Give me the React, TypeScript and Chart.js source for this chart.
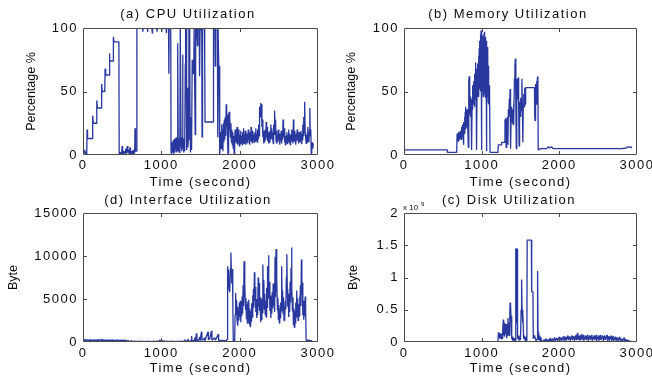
import React, { useEffect, useRef } from 'react';
import { Chart, registerables } from 'chart.js';

Chart.register(...registerables);

const FONT = '"Liberation Sans", Arial, Helvetica, sans-serif';
const LINE = 'rgb(40,56,158)';
const TEXT = '#0d0d0d';

// ---------- tick labels ----------
const timeTicks = [0, 1000, 2000, 3000];
const pctTicks = [0, 50, 100];
const byteTicks = [0, 5000, 10000, 15000];
const diskTicks = [0, 0.5, 1, 1.5, 2];

// ---------- titles ----------
const cpuTitle = '(a) CPU Utilization';
const memTitle = '(b) Memory Utilization';
const ifaceTitle = '(d) Interface Utilization';
const diskTitle = '(c) Disk Utilization';
const timeLabel = 'Time (second)';

// ---------- data: [time (s), value] ----------
const cpuSamples: [number, number][] = [
  [0, 3], [10, 1], [20, 4], [30, 2], [40, 0], [48, 1],
  [52, 20], [58, 13], [120, 13], [124, 31], [132, 25], [172, 25], [176, 43], [184, 37], [234, 37],
  [238, 56], [246, 50], [278, 50], [282, 68], [290, 63], [332, 63], [336, 80], [344, 74], [384, 74],
  [388, 93], [396, 89], [458, 89], [462, 1],
  [480, 2], [490, 0], [500, 7], [506, 1], [520, 3], [530, 0], [548, 5], [554, 1], [566, 7], [572, 2],
  [584, 4], [590, 0], [600, 6], [606, 1], [620, 3], [630, 0], [640, 4], [648, 1], [660, 2], [664, 21],
  [670, 3], [684, 3], [688, 100],
  [760, 100], [764, 97], [768, 100], [820, 100], [824, 97], [828, 100], [880, 100], [884, 96], [888, 100],
  [940, 100], [944, 97], [948, 100], [1000, 100], [1004, 97], [1008, 100], [1060, 100], [1064, 96], [1068, 100],
  [1092, 100], [1096, 64], [1100, 100], [1120, 100], [1124, 2],
  [1130, 8], [1134, 1], [1140, 10], [1144, 2], [1150, 11], [1154, 1], [1160, 12], [1164, 3], [1170, 13],
  [1174, 2], [1180, 12], [1184, 4], [1190, 14], [1194, 2], [1200, 12], [1206, 3],
  [1212, 88], [1216, 4], [1222, 13], [1226, 2], [1234, 12], [1238, 4], [1242, 100], [1248, 100], [1252, 8],
  [1258, 14], [1262, 3], [1268, 12], [1272, 79], [1276, 5], [1282, 13], [1286, 2], [1292, 11], [1298, 3],
  [1306, 72], [1310, 100], [1316, 100], [1320, 18], [1326, 4], [1330, 12], [1336, 53], [1340, 6], [1346, 12],
  [1352, 100], [1362, 100], [1366, 30], [1372, 2], [1380, 20], [1386, 4], [1394, 75], [1398, 64], [1414, 64],
  [1418, 100], [1428, 100], [1432, 16], [1438, 100], [1446, 92], [1452, 100], [1460, 86], [1466, 100],
  [1484, 100], [1488, 62], [1494, 98], [1516, 100], [1520, 14], [1526, 100], [1550, 100], [1554, 75],
  [1558, 26], [1662, 26], [1666, 100], [1684, 100], [1688, 70], [1692, 82], [1696, 100], [1716, 100],
  [1720, 14], [1724, 100], [1734, 100], [1738, 55], [1742, 70], [1748, 0],
  [1756, 18], [1762, 5], [1768, 24], [1774, 8], [1780, 20], [1786, 3], [1792, 25], [1798, 10], [1804, 28],
  [1810, 12], [1816, 30], [1822, 15], [1828, 40], [1834, 22], [1840, 32], [1846, 10], [1852, 0], [1858, 12],
  [1864, 34], [1870, 20], [1876, 30], [1882, 14], [1888, 25], [1894, 10], [1900, 20], [1906, 8], [1912, 18],
  [1918, 5], [1924, 15], [1930, 0], [1936, 12], [1942, 20], [1948, 10],
  [1954, 18], [1960, 9], [1966, 22], [1972, 8], [1978, 17], [1984, 10], [1990, 20], [1996, 7], [2002, 16],
  [2008, 9], [2014, 19], [2020, 11], [2026, 15], [2032, 8], [2038, 18], [2044, 10], [2050, 21], [2056, 9],
  [2062, 16], [2068, 11], [2074, 19], [2080, 8], [2086, 15], [2092, 10], [2098, 17], [2104, 9], [2110, 20],
  [2116, 12], [2122, 16], [2128, 8], [2134, 18], [2140, 11], [2146, 22], [2152, 10], [2158, 17], [2164, 9],
  [2170, 19], [2176, 12], [2182, 16], [2188, 10], [2194, 18], [2200, 11], [2206, 21], [2212, 12], [2218, 17],
  [2224, 10], [2230, 20], [2236, 13], [2242, 24], [2248, 15], [2254, 38], [2260, 30], [2266, 41], [2272, 34],
  [2278, 40], [2284, 22], [2290, 28], [2296, 14], [2302, 19], [2308, 9], [2314, 17], [2320, 10], [2326, 20],
  [2332, 12], [2338, 26], [2344, 14], [2350, 22], [2356, 11], [2362, 18], [2368, 9], [2374, 16], [2380, 10],
  [2386, 19], [2392, 13], [2398, 24], [2404, 15], [2410, 21], [2416, 12], [2422, 18], [2428, 9], [2434, 24],
  [2440, 16], [2446, 35], [2452, 22], [2458, 28], [2464, 12], [2470, 19], [2476, 9], [2482, 16], [2488, 10],
  [2494, 20], [2500, 12], [2506, 17], [2512, 8], [2518, 15], [2524, 11], [2530, 19], [2536, 9], [2542, 16],
  [2548, 12], [2554, 28], [2560, 14], [2566, 21], [2572, 10], [2578, 17], [2584, 8], [2590, 15], [2596, 11],
  [2602, 18], [2608, 9], [2614, 16], [2620, 12], [2626, 20], [2632, 10], [2638, 17], [2644, 8], [2650, 16],
  [2656, 11], [2662, 20], [2668, 13], [2674, 18], [2680, 9], [2686, 28], [2692, 11], [2698, 19], [2704, 10],
  [2710, 15], [2716, 8], [2722, 17], [2728, 11], [2734, 20], [2740, 12], [2746, 16], [2752, 9], [2758, 18],
  [2764, 10], [2770, 15], [2776, 11], [2782, 19], [2788, 9], [2794, 17], [2800, 12], [2806, 24], [2812, 15],
  [2818, 30], [2824, 20], [2830, 42], [2836, 18], [2842, 14], [2848, 9], [2854, 16], [2860, 10], [2866, 22],
  [2872, 12], [2878, 18], [2884, 10], [2890, 20], [2896, 37], [2902, 15], [2908, 20], [2914, 0], [2920, 3],
  [2926, 10], [2932, 5], [2940, 9],
];

const memSamples: [number, number][] = [
  [0, 4], [556, 4], [560, 2], [678, 2], [684, 17],
  [688, 12], [692, 16], [696, 11], [700, 17], [704, 12], [708, 18], [712, 13], [716, 16], [720, 12],
  [724, 19], [728, 13], [732, 18], [736, 14], [740, 22], [744, 12], [748, 21], [752, 15], [756, 24],
  [760, 16], [764, 8], [768, 18], [772, 26], [776, 17], [780, 30], [784, 19], [788, 34], [792, 20],
  [796, 38], [800, 22], [804, 30], [808, 24], [812, 36], [816, 25], [820, 33], [824, 26], [828, 6],
  [832, 30], [836, 58], [840, 62], [844, 32], [848, 50], [852, 34], [856, 46], [860, 30], [864, 44],
  [868, 28], [872, 4], [876, 36], [880, 52], [884, 38], [888, 55], [892, 40], [896, 58], [900, 42],
  [904, 50], [908, 38], [912, 64], [916, 44], [920, 73], [924, 46], [928, 68], [932, 42], [936, 4],
  [940, 48], [944, 72], [948, 50], [952, 66], [956, 46], [960, 78], [964, 50], [968, 84], [972, 52],
  [976, 90], [980, 56], [984, 95], [988, 50], [992, 98], [996, 48], [1000, 4], [1004, 52], [1008, 94],
  [1012, 50], [1016, 88], [1020, 46], [1024, 92], [1028, 54], [1032, 96], [1036, 48], [1040, 97],
  [1044, 50], [1048, 93], [1052, 45], [1056, 90], [1060, 44], [1064, 3], [1068, 48], [1072, 85],
  [1076, 46], [1080, 78], [1084, 42], [1088, 70], [1092, 40], [1096, 55], [1100, 38], [1104, 45], [1108, 2],
  [1210, 2], [1214, 8], [1255, 8], [1258, 10], [1296, 10],
  [1300, 28], [1305, 22], [1310, 29], [1315, 6], [1320, 28], [1326, 24], [1332, 30], [1338, 8], [1344, 36],
  [1350, 30], [1356, 44], [1360, 38], [1366, 52], [1370, 34], [1374, 5], [1380, 30], [1386, 38], [1392, 26],
  [1398, 36], [1404, 24], [1410, 40], [1416, 28], [1422, 60], [1428, 70], [1434, 76], [1440, 40], [1446, 5],
  [1452, 48], [1458, 60], [1464, 44], [1470, 61], [1476, 40], [1482, 7], [1488, 36], [1494, 42], [1500, 30],
  [1506, 45], [1512, 35], [1518, 60], [1524, 40], [1530, 10], [1536, 40], [1542, 48], [1548, 38], [1554, 53],
  [1560, 40], [1566, 53], [1680, 53], [1684, 30], [1688, 27], [1694, 56], [1700, 40], [1706, 58], [1712, 45],
  [1718, 61], [1724, 62], [1728, 4],
  [1760, 5], [1840, 5], [1860, 6.5], [1880, 5.5], [1900, 6.5], [1920, 5], [2800, 5], [2860, 5.5],
  [2880, 6.5], [2900, 6], [2920, 6.5], [2935, 5.5],
];

const ifaceSamples: [number, number][] = [
  [0, 250], [12, 120], [24, 300], [36, 150], [48, 280], [60, 110], [72, 260], [84, 140], [96, 300],
  [108, 120], [120, 240], [132, 100], [144, 280], [156, 130], [168, 260], [180, 110], [192, 300],
  [204, 150], [216, 270], [228, 120], [240, 350], [252, 140], [264, 260], [276, 110], [288, 280],
  [300, 130], [312, 250], [324, 100], [336, 270], [348, 140], [360, 250], [372, 110], [384, 280],
  [396, 120], [408, 240], [420, 100], [432, 260], [444, 130], [456, 230], [468, 100], [480, 250],
  [492, 120], [504, 240], [516, 110], [528, 230], [540, 90], [552, 200], [564, 80], [580, 150],
  [600, 60], [620, 120], [640, 50], [660, 110], [680, 40], [700, 100], [720, 50], [740, 90], [760, 30],
  [780, 80], [800, 40], [820, 90], [840, 30], [860, 80], [880, 40], [900, 90], [920, 30], [940, 100],
  [960, 60], [980, 200], [990, 120], [1000, 220], [1010, 80], [1030, 120], [1050, 40], [1070, 100],
  [1090, 30], [1110, 90], [1130, 40], [1150, 100], [1170, 30], [1190, 80], [1210, 40], [1230, 100],
  [1250, 50], [1270, 110], [1290, 60],
  [1300, 300], [1306, 60], [1330, 120], [1340, 350], [1346, 80], [1380, 150], [1386, 700], [1392, 100],
  [1420, 200], [1430, 500], [1436, 120], [1448, 1000], [1454, 150], [1480, 250], [1490, 600], [1496, 150],
  [1512, 1200], [1518, 200], [1540, 300], [1550, 500], [1556, 150], [1596, 1200], [1602, 250], [1620, 400],
  [1640, 1300], [1646, 200], [1660, 350], [1680, 500], [1690, 200], [1726, 900], [1732, 150], [1760, 200],
  [1800, 150], [1830, 200], [1840, 300],
  [1846, 8800], [1852, 7600], [1858, 8400], [1864, 6200], [1870, 7400], [1876, 5800], [1882, 8600],
  [1888, 10400], [1894, 8200], [1900, 6800], [1906, 8500], [1912, 5200], [1918, 150], [1924, 80],
  [1930, 200], [1936, 100], [1942, 3200], [1948, 5700], [1954, 3400], [1960, 4900], [1966, 2600],
  [1972, 4100], [1978, 1900], [1984, 3700], [1990, 2500], [1996, 4600], [2002, 2900], [2008, 4800],
  [2014, 2300], [2020, 4300], [2026, 3000], [2032, 5300], [2038, 3300], [2044, 6600], [2050, 4200],
  [2056, 9400], [2062, 5200], [2068, 6900], [2074, 3800], [2080, 5100], [2086, 2700], [2092, 4400],
  [2098, 2200], [2104, 4700], [2110, 3000], [2116, 4900], [2122, 2100], [2128, 3900], [2134, 1800],
  [2140, 3600], [2146, 2400], [2152, 4500], [2158, 2900], [2164, 5400], [2170, 3300], [2176, 6200],
  [2182, 4000], [2188, 8100], [2194, 4800], [2200, 6400], [2206, 3500], [2212, 5000], [2218, 2800],
  [2224, 4300], [2230, 3100], [2236, 7500], [2242, 4100], [2248, 6900], [2254, 3600], [2260, 5200],
  [2266, 2300], [2272, 4400], [2278, 2600], [2284, 5000], [2290, 3400], [2296, 9000], [2302, 4900],
  [2308, 7200], [2314, 3800], [2320, 5600], [2326, 3200], [2332, 4800], [2338, 2900], [2344, 6300],
  [2350, 4000], [2356, 8800], [2362, 5100], [2368, 10100], [2374, 5600], [2380, 7000], [2386, 3600],
  [2392, 5400], [2398, 2800], [2404, 4500], [2410, 3300], [2416, 5800], [2422, 3900], [2428, 6800],
  [2434, 4200], [2440, 5600], [2446, 3500], [2452, 9900], [2458, 5200], [2464, 10800], [2470, 5800],
  [2476, 7400], [2482, 3700], [2488, 5100], [2494, 2600], [2500, 4300], [2506, 2200], [2512, 3900],
  [2518, 2800], [2524, 4600], [2530, 3600], [2536, 8800], [2542, 4700], [2548, 6000], [2554, 3300],
  [2560, 5200], [2566, 2500], [2572, 4100], [2578, 3000], [2584, 4800], [2590, 3800], [2596, 7600],
  [2602, 10200], [2608, 6200], [2614, 4100], [2620, 5600], [2626, 2900], [2632, 4500], [2638, 3500],
  [2644, 7000], [2650, 4600], [2656, 8600], [2662, 11000], [2668, 6400], [2674, 3600], [2680, 5200],
  [2686, 2000], [2692, 3900], [2698, 1700], [2704, 3600], [2710, 2200], [2716, 4600], [2722, 2900],
  [2728, 6000], [2734, 3400], [2740, 5100], [2746, 2500], [2752, 4400], [2758, 3000], [2764, 5300],
  [2770, 3700], [2776, 6600], [2782, 4200], [2788, 9600], [2794, 5500], [2800, 6900], [2806, 3100],
  [2812, 4800], [2818, 2600], [2824, 4200], [2830, 3000], [2836, 5300], [2842, 4000], [2848, 300],
  [2856, 100], [2870, 250], [2880, 80], [2890, 220], [2900, 60], [2910, 200], [2920, 100], [2935, 50],
];

// disk values in units of 10^9 bytes
const diskSamples: [number, number][] = [
  [0, 0.005], [1210, 0.005], [1215, 0.15], [1220, 0.08], [1226, 0.14], [1232, 0.05], [1238, 0.12],
  [1244, 0.06], [1250, 0.13], [1256, 0.04], [1262, 0.1], [1268, 0.05], [1274, 0.2], [1279, 0.35],
  [1284, 0.1], [1290, 0.3], [1296, 0.08], [1302, 0.25], [1308, 0.12], [1314, 0.28], [1320, 0.06],
  [1326, 0.22], [1332, 0.1], [1338, 0.37], [1344, 0.15], [1350, 0.3], [1356, 0.1], [1362, 0.45],
  [1366, 0.61], [1372, 0.55], [1378, 0.4], [1384, 0.05], [1390, 0.1], [1396, 0.03], [1402, 0.08],
  [1410, 0.02], [1420, 0.06], [1430, 0.02], [1436, 1.45], [1442, 1.45], [1446, 0.3], [1450, 1.45],
  [1456, 1.44], [1460, 0.2], [1462, 1.4], [1464, 0.05], [1470, 0.1], [1480, 0.02], [1490, 0.08],
  [1500, 0.03], [1508, 0.5], [1514, 0.97], [1520, 0.5], [1526, 0.3], [1532, 0.5], [1540, 0.05],
  [1550, 0.1], [1560, 0.02], [1570, 0.08], [1582, 0.02], [1586, 1.58], [1640, 1.58], [1644, 0.78],
  [1660, 0.78], [1664, 0.05], [1680, 0.1], [1700, 0.02], [1716, 0.05], [1720, 1.1], [1726, 0.05],
  [1732, 0.15], [1738, 0.03], [1746, 0.1], [1752, 0.02], [1760, 0.08], [1770, 0.02], [1790, 0.01],
  [1800, 0.04], [1804, 0.01], [1830, 0.05], [1834, 0.01], [1860, 0.04], [1864, 0.01], [1885, 0.06],
  [1889, 0.01], [1915, 0.05], [1919, 0.01], [1940, 0.07], [1944, 0.02], [1970, 0.06], [1974, 0.01],
  [2000, 0.08], [2004, 0.02], [2025, 0.07], [2029, 0.02], [2055, 0.09], [2059, 0.02], [2080, 0.08],
  [2084, 0.02], [2110, 0.1], [2114, 0.03], [2135, 0.09], [2139, 0.02], [2165, 0.1], [2169, 0.03],
  [2190, 0.09], [2194, 0.02], [2215, 0.11], [2219, 0.03], [2235, 0.14], [2239, 0.03], [2260, 0.1],
  [2264, 0.02], [2285, 0.12], [2289, 0.03], [2310, 0.11], [2314, 0.02], [2340, 0.1], [2344, 0.03],
  [2365, 0.11], [2369, 0.02], [2395, 0.1], [2399, 0.03], [2420, 0.11], [2424, 0.02], [2450, 0.1],
  [2454, 0.03], [2475, 0.11], [2479, 0.02], [2505, 0.1], [2509, 0.02], [2530, 0.11], [2534, 0.03],
  [2560, 0.1], [2564, 0.02], [2585, 0.1], [2589, 0.03], [2615, 0.11], [2619, 0.02], [2640, 0.09],
  [2644, 0.02], [2670, 0.1], [2674, 0.02], [2695, 0.09], [2699, 0.02], [2725, 0.08], [2729, 0.02],
  [2750, 0.07], [2754, 0.01], [2780, 0.08], [2784, 0.02], [2805, 0.05], [2809, 0.01], [2835, 0.07],
  [2839, 0.01], [2860, 0.04], [2864, 0.01], [2890, 0.03], [2894, 0.01], [2930, 0.01],
];

type PanelCfg = {
  key: string;
  title: string;
  titleX: number;
  titleY: number;
  samples: [number, number][];
  yTicks: number[];
  yLabel: string;
  area: { left: number; right: number; top: number; bottom: number };
  padL: number;
  axisH: number;
  yTitleX: number;
  xTickY: number;
  xTitleY: number;
  exponent?: string;
};

const W = 652;
const H = 377;

const panels: PanelCfg[] = [
  {
    key: 'cpu', title: cpuTitle, titleX: 188, titleY: 14, samples: cpuSamples, yTicks: pctTicks,
    yLabel: 'Percentage %', area: { left: 83, right: 318, top: 28, bottom: 155 }, padL: 0, axisH: 40,
    yTitleX: 32, xTickY: 165, xTitleY: 182,
  },
  {
    key: 'mem', title: memTitle, titleX: 508, titleY: 14, samples: memSamples, yTicks: pctTicks,
    yLabel: 'Percentage %', area: { left: 404, right: 637, top: 28, bottom: 155 }, padL: 330, axisH: 40,
    yTitleX: 352, xTickY: 165, xTitleY: 182,
  },
  {
    key: 'iface', title: ifaceTitle, titleX: 188, titleY: 200, samples: ifaceSamples, yTicks: byteTicks,
    yLabel: 'Byte', area: { left: 83, right: 318, top: 213, bottom: 342 }, padL: 0, axisH: 35,
    yTitleX: 14, xTickY: 353, xTitleY: 368,
  },
  {
    key: 'disk', title: diskTitle, titleX: 509, titleY: 200, samples: diskSamples, yTicks: diskTicks,
    yLabel: 'Byte', area: { left: 404, right: 637, top: 213, bottom: 342 }, padL: 330, axisH: 35,
    yTitleX: 354, xTickY: 353, xTitleY: 368, exponent: '9',
  },
];

const framePlugin = {
  id: 'frame',
  beforeDraw(chart: any) {
    chart.ctx.letterSpacing = '1.5px';
  },
  afterDraw(chart: any, _args: any, opts: any) {
    const { ctx, chartArea: a, scales } = chart;
    ctx.save();
    const l = Math.round(a.left) + 0.5;
    const r = Math.round(a.right) - 0.5;
    const t = Math.round(a.top) + 0.5;
    const b = Math.round(a.bottom) - 0.5;
    ctx.strokeStyle = '#4a4a4a';
    ctx.lineWidth = 1;
    ctx.beginPath();
    ctx.rect(l, t, r - l, b - t);
    const tl = 3.5;
    for (const tk of scales.x.ticks) {
      const px = Math.round(scales.x.getPixelForValue(tk.value)) + 0.5;
      if (px <= l + 1 || px >= r - 1) continue;
      ctx.moveTo(px, b); ctx.lineTo(px, b - tl);
      ctx.moveTo(px, t); ctx.lineTo(px, t + tl);
    }
    for (const tk of scales.y.ticks) {
      const py = Math.round(scales.y.getPixelForValue(tk.value)) + 0.5;
      if (py <= t + 1 || py >= b - 1) continue;
      ctx.moveTo(l, py); ctx.lineTo(l + tl, py);
      ctx.moveTo(r, py); ctx.lineTo(r - tl, py);
    }
    ctx.stroke();

    ctx.fillStyle = TEXT;
    ctx.font = `13px ${FONT}`;
    ctx.letterSpacing = '1.5px';
    ctx.textAlign = 'center';
    ctx.textBaseline = 'middle';
    ctx.fillText(opts.title, opts.titleX, opts.titleY);

    if (opts.exponent) {
      ctx.letterSpacing = '0px';
      ctx.textAlign = 'left';
      ctx.textBaseline = 'alphabetic';
      ctx.font = `8px ${FONT}`;
      ctx.fillText('x 10', a.left - 1, a.top - 3);
      ctx.font = `6px ${FONT}`;
      ctx.fillText(opts.exponent, a.left + 17, a.top - 7);
    }
    ctx.restore();
  },
};

function buildConfig(p: PanelCfg): any {
  const axisW = p.area.left - p.padL;
  const yMax = p.yTicks[p.yTicks.length - 1];
  const xLabelPad = p.xTickY - p.area.bottom - 7.8;
  const xTitlePadB = p.area.bottom + p.axisH - p.xTitleY - 7.8;
  const yTitlePadT = p.yTitleX - p.padL - 7.5;
  return {
    type: 'line',
    data: {
      datasets: [
        {
          data: p.samples.map(([x, y]) => ({ x, y })),
          borderColor: LINE,
          borderWidth: 1.3,
          borderJoinStyle: 'bevel',
          pointRadius: 0,
          fill: false,
          tension: 0,
        },
      ],
    },
    options: {
      animation: false,
      responsive: false,
      maintainAspectRatio: false,
      devicePixelRatio: 1,
      events: [],
      layout: {
        padding: {
          left: p.padL,
          right: W - p.area.right,
          top: p.area.top,
          bottom: H - p.area.bottom - p.axisH,
        },
      },
      plugins: {
        legend: { display: false },
        tooltip: { enabled: false },
        title: { display: false },
        frame: { title: p.title, titleX: p.titleX, titleY: p.titleY, exponent: p.exponent },
      },
      scales: {
        x: {
          type: 'linear',
          min: timeTicks[0],
          max: timeTicks[timeTicks.length - 1],
          grid: { display: false, drawTicks: false },
          border: { display: false },
          afterBuildTicks: (s: any) => {
            s.ticks = timeTicks.map((v) => ({ value: v }));
          },
          afterFit: (s: any) => {
            s.height = p.axisH;
            s.paddingLeft = 0; s.paddingRight = 0; s.paddingTop = 0; s.paddingBottom = 0;
          },
          ticks: {
            autoSkip: false,
            maxRotation: 0,
            padding: xLabelPad,
            color: TEXT,
            font: { family: FONT, size: 13 },
            callback: (v: number) => String(v),
          },
          title: {
            display: true,
            text: timeLabel,
            color: TEXT,
            font: { family: FONT, size: 13 },
            padding: { top: 0, bottom: xTitlePadB },
          },
        },
        y: {
          type: 'linear',
          min: 0,
          max: yMax,
          grid: { display: false, drawTicks: false },
          border: { display: false },
          afterBuildTicks: (s: any) => {
            s.ticks = p.yTicks.map((v) => ({ value: v }));
          },
          afterFit: (s: any) => {
            s.width = axisW;
            s.paddingLeft = 0; s.paddingRight = 0; s.paddingTop = 0; s.paddingBottom = 0;
            if (!s.__wrapped) {
              const orig = s.drawTitle.bind(s);
              s.drawTitle = (...args: any[]) => {
                const c = s.ctx;
                const prev = c.letterSpacing;
                c.letterSpacing = '0px';
                orig(...args);
                c.letterSpacing = prev;
              };
              s.__wrapped = true;
            }
          },
          ticks: {
            autoSkip: false,
            padding: 5,
            color: TEXT,
            font: { family: FONT, size: 13 },
            callback: (v: number) => String(v),
          },
          title: {
            display: true,
            text: p.yLabel,
            color: TEXT,
            font: { family: FONT, size: 12.5 },
            padding: { top: yTitlePadT, bottom: 0 },
          },
        },
      },
    },
    plugins: [framePlugin],
  };
}

function Panel({ cfg }: { cfg: PanelCfg }) {
  const ref = useRef<HTMLCanvasElement | null>(null);
  useEffect(() => {
    if (!ref.current) return;
    const chart = new Chart(ref.current, buildConfig(cfg));
    return () => chart.destroy();
  }, [cfg]);
  return (
    <canvas
      ref={ref}
      width={W}
      height={H}
      style={{ position: 'absolute', left: 0, top: 0, width: W, height: H }}
    />
  );
}

export default function App() {
  return (
    <div style={{ position: 'fixed', left: 0, top: 0, width: W, height: H, background: '#ffffff', overflow: 'hidden' }}>
      {panels.map((p) => (
        <Panel key={p.key} cfg={p} />
      ))}
    </div>
  );
}
